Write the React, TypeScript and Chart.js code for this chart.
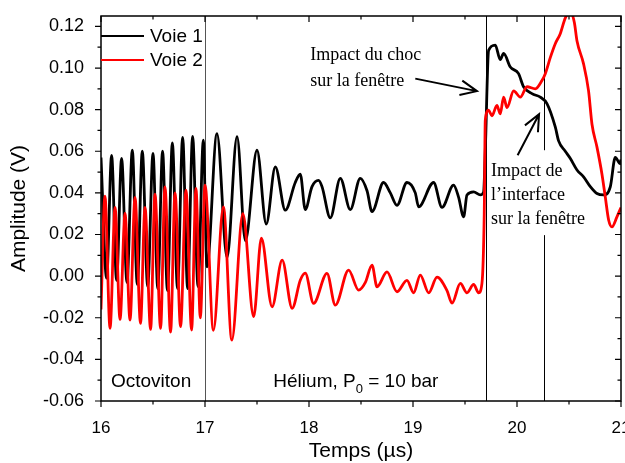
import React, { useEffect, useRef } from "react";
import { Chart, registerables } from "chart.js";
Chart.register(...registerables);

// Voie 1 (black) – time in µs, amplitude in V
const voie1T = [
  16.0, 16.054, 16.102, 16.15, 16.198, 16.25, 16.301, 16.349, 16.397, 16.449,
  16.5, 16.546, 16.592, 16.639, 16.686, 16.736, 16.785, 16.833, 16.881, 16.933,
  16.984, 17.019, 17.115, 17.212, 17.308, 17.388, 17.5, 17.589, 17.676, 17.772,
  17.868, 17.916, 17.964, 18.029, 18.092, 18.125, 18.205, 18.301, 18.397, 18.493,
  18.558, 18.606, 18.717, 18.782, 18.846, 18.942, 19.022, 19.054, 19.198, 19.279,
  19.39, 19.438, 19.487, 19.519, 19.583, 19.647, 19.679, 19.695, 19.727, 19.791,
  19.839, 19.871, 19.936, 20.015, 20.063, 20.144, 20.224, 20.288, 20.368, 20.4,
  20.464, 20.513, 20.577, 20.64, 20.705, 20.769, 20.833, 20.897, 20.945, 20.993, 21.0,
];
const voie1V = [
  0.057, -0.001, 0.058, -0.002, 0.0566, -0.003, 0.0605, -0.004, 0.06, -0.005,
  0.059, -0.006, 0.06, -0.007, 0.064, -0.006, 0.0667, -0.006, 0.0672, -0.005,
  0.0653, 0.0045, 0.0685, 0.009, 0.067, 0.017, 0.0605, 0.025, 0.0525, 0.0317,
  0.045, 0.049, 0.032, 0.043, 0.046, 0.043, 0.028, 0.047, 0.032, 0.047,
  0.041, 0.031, 0.045, 0.04, 0.034, 0.045, 0.04, 0.0333, 0.045, 0.033,
  0.0437, 0.038, 0.0285, 0.039, 0.0405, 0.039, 0.0405, 0.06, 0.1085, 0.111,
  0.104, 0.107, 0.1005, 0.0973, 0.091, 0.0877, 0.086, 0.0829, 0.0717, 0.065,
  0.06, 0.0565, 0.051, 0.0477, 0.043, 0.0397, 0.039, 0.0429, 0.057, 0.054, 0.056,
];

// Voie 2 (red)
const voie2T = [
  16.0, 16.038, 16.087, 16.135, 16.183, 16.231, 16.279, 16.327, 16.38, 16.423,
  16.477, 16.519, 16.573, 16.615, 16.669, 16.712, 16.765, 16.817, 16.871, 16.913,
  16.955, 17.0, 17.081, 17.177, 17.258, 17.364, 17.468, 17.542, 17.645, 17.742,
  17.838, 17.916, 17.964, 18.044, 18.173, 18.253, 18.381, 18.477, 18.542, 18.606,
  18.654, 18.75, 18.846, 18.942, 19.006, 19.07, 19.151, 19.231, 19.327, 19.375,
  19.455, 19.519, 19.583, 19.631, 19.663, 19.685, 19.695, 19.727, 19.759, 19.807,
  19.839, 19.871, 19.904, 19.968, 20.032, 20.096, 20.176, 20.24, 20.272, 20.32,
  20.368, 20.416, 20.464, 20.513, 20.551, 20.577, 20.64, 20.688, 20.721, 20.769,
  20.817, 20.849, 20.881, 20.913, 20.961, 21.0,
];
const voie2V = [
  -0.016, 0.0384, -0.0251, 0.033, -0.0208, 0.0301, -0.0211, 0.0378, -0.0227, 0.033,
  -0.0256, 0.0394, -0.0251, 0.0429, -0.0269, 0.04, -0.0243, 0.0413, -0.0259, 0.0421,
  -0.02, 0.0437, -0.026, 0.0333, -0.0307, 0.03, -0.0195, 0.0182, -0.0147, 0.0077,
  -0.0155, -0.002, 0.0014, -0.0131, 0.0013, -0.0139, 0.0029, -0.0067, -0.003, 0.0053,
  -0.0051, 0.002, -0.0075, -0.002, -0.008, 0.0005, -0.008, -0.0005, -0.007, -0.013,
  -0.0035, -0.008, -0.004, -0.008, -0.0035, 0.03, 0.075, 0.0797, 0.077, 0.082,
  0.078, 0.086, 0.081, 0.089, 0.086, 0.091, 0.09, 0.094, 0.0973, 0.105,
  0.1117, 0.1165, 0.124, 0.127, 0.122, 0.113, 0.102, 0.089, 0.073, 0.062,
  0.049, 0.038, 0.027, 0.0237, 0.0285, 0.033,
];

const xMin = 16, xMax = 21, xStep = 1, xMinor = 0.5;
const yMin = -0.06, yMax = 0.125, yStep = 0.02, yMinor = 0.01;
const markerTimes = [17.0, 19.7, 20.255];
const markerColors = ["#555555", "#000000", "#000000"];
const legendLabels = ["Voie 1", "Voie 2"];
const seriesColors = ["#000000", "#ff0000"];
const xTitle = "Temps (\u00b5s)";
const yTitle = "Amplitude (V)";
const note1 = ["Impact du choc", "sur la fen\u00eatre"];
const note2 = ["Impact de", "l\u2019interface", "sur la fen\u00eatre"];
const leftLabel = "Octoviton";

const decor = {
  id: "decor",
  beforeDatasetsDraw(chart: any) {
    const { ctx, chartArea: a, scales } = chart;
    const xs = scales.x, ys = scales.y;
    ctx.save();
    ctx.lineWidth = 1;
    markerTimes.forEach((t, i) => {
      const px = Math.round(xs.getPixelForValue(t)) + 0.5;
      ctx.strokeStyle = markerColors[i];
      ctx.beginPath();
      if (i === 2) {
        ctx.moveTo(px, a.top);
        ctx.lineTo(px, ys.getPixelForValue(0.0605));
        ctx.moveTo(px, ys.getPixelForValue(0.0197));
        ctx.lineTo(px, a.bottom);
      } else {
        ctx.moveTo(px, a.top);
        ctx.lineTo(px, a.bottom);
      }
      ctx.stroke();
    });
    ctx.restore();
  },
  afterDatasetsDraw(chart: any) {
    const { ctx, chartArea: a, scales } = chart;
    const xs = scales.x, ys = scales.y;
    ctx.save();
    // frame
    ctx.strokeStyle = "#000";
    ctx.lineWidth = 1.5;
    ctx.strokeRect(a.left, a.top, a.right - a.left, a.bottom - a.top);
    ctx.lineWidth = 1.2;
    ctx.beginPath();
    for (let k = 0; ; k++) {
      const v = xMin + k * xMinor;
      if (v > xMax + 1e-9) break;
      const px = xs.getPixelForValue(v);
      const major = Math.abs(v / xStep - Math.round(v / xStep)) < 1e-6;
      const len = major ? 6 : 3.5;
      ctx.moveTo(px, a.bottom);
      ctx.lineTo(px, a.bottom + len);
      ctx.moveTo(px, a.top);
      ctx.lineTo(px, a.top + len);
    }
    for (let k = 0; ; k++) {
      const v = yMin + k * yMinor;
      if (v > yMax + 1e-9) break;
      const py = ys.getPixelForValue(v);
      const r = Math.round(v * 100);
      const major = r % 2 === 0;
      const len = major ? 6 : 3.5;
      ctx.moveTo(a.left, py);
      ctx.lineTo(a.left - len, py);
      ctx.moveTo(a.right, py);
      ctx.lineTo(a.right - len, py);
    }
    ctx.stroke();

    // legend
    ctx.lineWidth = 2;
    ctx.font = "19px 'Liberation Sans', Arial, sans-serif";
    ctx.textBaseline = "middle";
    ctx.textAlign = "left";
    legendLabels.forEach((lab, i) => {
      const y = a.top + 20 + i * 24;
      ctx.strokeStyle = seriesColors[i];
      ctx.beginPath();
      ctx.moveTo(a.left, y);
      ctx.lineTo(a.left + 43, y);
      ctx.stroke();
      ctx.fillStyle = "#000";
      ctx.fillText(lab, a.left + 49, y + 1);
    });

    // bottom labels
    ctx.fillStyle = "#000";
    ctx.font = "19px 'Liberation Sans', Arial, sans-serif";
    const by = ys.getPixelForValue(-0.0509);
    ctx.fillText(leftLabel, xs.getPixelForValue(16.096), by);
    let hx = xs.getPixelForValue(17.657);
    const part1 = "H\u00e9lium, P";
    ctx.fillText(part1, hx, by);
    hx += ctx.measureText(part1).width;
    ctx.font = "13px 'Liberation Sans', Arial, sans-serif";
    ctx.fillText("0", hx, by + 7);
    hx += ctx.measureText("0").width;
    ctx.font = "19px 'Liberation Sans', Arial, sans-serif";
    ctx.fillText(" = 10 bar", hx, by);

    // annotations
    ctx.font = "18px 'Liberation Serif', 'Times New Roman', serif";
    const n1x = xs.getPixelForValue(18.013);
    ctx.fillText(note1[0], n1x, ys.getPixelForValue(0.1061));
    ctx.fillText(note1[1], n1x, ys.getPixelForValue(0.0936));
    const n2x = xs.getPixelForValue(19.75);
    [0.0504, 0.0389, 0.0274].forEach((v, i) => ctx.fillText(note2[i], n2x, ys.getPixelForValue(v)));

    const arrow = (t0: number, v0: number, t1: number, v1: number) => {
      const x0 = xs.getPixelForValue(t0), y0 = ys.getPixelForValue(v0);
      const x1 = xs.getPixelForValue(t1), y1 = ys.getPixelForValue(v1);
      const ang = Math.atan2(y1 - y0, x1 - x0);
      const hl = 18, hw = 0.42;
      ctx.strokeStyle = "#000";
      ctx.lineWidth = 2;
      ctx.beginPath();
      ctx.moveTo(x0, y0);
      ctx.lineTo(x1, y1);
      ctx.moveTo(x1 - hl * Math.cos(ang - hw), y1 - hl * Math.sin(ang - hw));
      ctx.lineTo(x1, y1);
      ctx.lineTo(x1 - hl * Math.cos(ang + hw), y1 - hl * Math.sin(ang + hw));
      ctx.stroke();
    };
    arrow(19.022, 0.0949, 19.615, 0.0889);
    arrow(20.006, 0.0581, 20.212, 0.0778);

    // axis titles
    ctx.font = "21px 'Liberation Sans', Arial, sans-serif";
    ctx.textAlign = "center";
    ctx.fillText(xTitle, (a.left + a.right) / 2, 451);
    ctx.translate(19, (a.top + a.bottom) / 2);
    ctx.rotate(-Math.PI / 2);
    ctx.fillText(yTitle, 0, 0);
    ctx.restore();
  },
};

export default function App() {
  const ref = useRef<HTMLCanvasElement>(null);
  useEffect(() => {
    document.body.style.margin = "0";
    const d1 = voie1T.map((t, i) => ({ x: t, y: voie1V[i] }));
    const d2 = voie2T.map((t, i) => ({ x: t, y: voie2V[i] }));
    const chart = new Chart(ref.current as HTMLCanvasElement, {
      type: "line",
      data: {
        datasets: [
          { label: legendLabels[1], data: d2, borderColor: seriesColors[1], borderWidth: 2.8, pointRadius: 0, cubicInterpolationMode: "monotone", order: 0 },
          { label: legendLabels[0], data: d1, borderColor: seriesColors[0], borderWidth: 2.8, pointRadius: 0, cubicInterpolationMode: "monotone", order: 1 },
        ],
      },
      options: {
        animation: false,
        responsive: false,
        devicePixelRatio: 1,
        layout: { padding: { top: 16, right: 4, left: 0, bottom: 0 } },
        plugins: { legend: { display: false }, tooltip: { enabled: false } },
        scales: {
          x: {
            type: "linear",
            min: xMin,
            max: xMax,
            grid: { display: false },
            border: { display: false },
            ticks: { stepSize: xStep, padding: 9, color: "#000", font: { family: "'Liberation Sans', Arial", size: 17 }, maxRotation: 0 },
            afterFit: (s: any) => { s.height = 62; s.paddingLeft = 0; s.paddingRight = 0; },
          },
          y: {
            type: "linear",
            min: yMin,
            max: yMax,
            grid: { display: false },
            border: { display: false },
            ticks: {
              stepSize: yStep,
              includeBounds: false,
              padding: 9,
              color: "#000",
              font: { family: "'Liberation Sans', Arial", size: 18 },
              callback: (v: any) => Number(v).toFixed(2),
            },
            afterFit: (s: any) => { s.width = 101; s.paddingTop = 0; s.paddingBottom = 0; },
          },
        },
      },
      plugins: [decor],
    } as any);
    return () => chart.destroy();
  }, []);
  return (
    <div style={{ position: "absolute", left: 0, top: 0, width: 625, height: 463, background: "#fff" }}>
      <canvas ref={ref} width={625} height={463} />
    </div>
  );
}
